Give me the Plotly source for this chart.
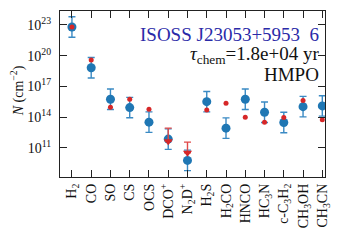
import plotly.graph_objects as go

species = ["H<sub>2</sub>", "CO", "SO", "CS", "OCS", "DCO<sup>+</sup>", "N<sub>2</sub>D<sup>+</sup>",
           "H<sub>2</sub>S", "H<sub>2</sub>CO", "HNCO", "HC<sub>3</sub>N",
           "c-C<sub>3</sub>H<sub>2</sub>", "CH<sub>3</sub>OH", "CH<sub>3</sub>CN"]

# observed column densities (cm^-2) with factor-of-10 uncertainties
obs_N = [6.3e22, 6.6e18, 5.5e15, 8.5e14, 3.2e13, 7.1e11, 5.9e9,
         3.2e15, 8.3e12, 5.5e15, 3.0e14, 3.0e13, 1.05e15, 1.23e15]
obs_err_factor = 10.0

# model column densities (cm^-2)
mod_species = ["H<sub>2</sub>", "CO", "SO", "CS", "OCS", "H<sub>2</sub>S", "H<sub>2</sub>CO", "HNCO",
               "HC<sub>3</sub>N", "c-C<sub>3</sub>H<sub>2</sub>", "CH<sub>3</sub>OH", "CH<sub>3</sub>CN"]
mod_N = [6.3e22, 3.7e19, 9.1e14, 5.5e15, 5.9e14, 5.0e14, 2.2e15, 9.8e13,
         3.2e13, 8.9e13, 4.1e15, 5.4e13]

# model upper limits
lim_species = ["DCO<sup>+</sup>", "N<sub>2</sub>D<sup>+</sup>"]
lim_N = [4.4e11, 3.3e10]
lim_top = [8.3e12, 3.6e11]

y_tickvals = [1e11, 1e14, 1e17, 1e20, 1e23]
y_ticktext = ["10<sup>11</sup>", "10<sup>14</sup>", "10<sup>17</sup>", "10<sup>20</sup>", "10<sup>23</sup>"]

BLUE = "#1f77b4"
RED = "#d62728"
FONT = "Liberation Serif"

fig = go.Figure()

fig.add_trace(go.Scatter(
    x=species, y=obs_N, mode="markers",
    marker=dict(color=BLUE, size=9),
    error_y=dict(type="data", symmetric=False,
                 array=[v * obs_err_factor - v for v in obs_N],
                 arrayminus=[v - v / obs_err_factor for v in obs_N],
                 color="#3a8ac4", thickness=1.4, width=3.5),
    showlegend=False))

fig.add_trace(go.Scatter(
    x=lim_species, y=lim_N, mode="markers",
    marker=dict(color=RED, size=8, symbol="triangle-down"),
    error_y=dict(type="data", symmetric=False,
                 array=[t - v for t, v in zip(lim_top, lim_N)],
                 arrayminus=[0 for _ in lim_N],
                 color="#e04a4a", thickness=1.4, width=3.5),
    showlegend=False))

fig.add_trace(go.Scatter(
    x=mod_species, y=mod_N, mode="markers",
    marker=dict(color=RED, size=5),
    showlegend=False))

axis_common = dict(showline=True, linecolor="#222", linewidth=1.2, mirror="ticks",
                   ticks="inside", ticklen=7, tickwidth=1.1, tickcolor="#222",
                   showgrid=False, zeroline=False, automargin=False)

fig.update_xaxes(type="category", categoryorder="array", categoryarray=species,
                 range=[-0.62, 13.14], tickangle=-90,
                 tickfont=dict(family=FONT, size=14, color="#111"), **axis_common)
fig.update_yaxes(type="log", range=[8.15, 24.36], tickvals=y_tickvals, ticktext=y_ticktext,
                 tickfont=dict(family=FONT, size=14, color="#111"), ticklabelstandoff=5,
                 **axis_common)

fig.add_annotation(x=0.985, y=0.86, xref="paper", yref="paper", xanchor="right", yanchor="middle",
                   text="ISOSS J23053+5953  6", showarrow=False,
                   font=dict(family=FONT, size=19, color="#2a2aa8"))
fig.add_annotation(x=0.985, y=0.735, xref="paper", yref="paper", xanchor="right", yanchor="middle",
                   text="<i>τ</i><sub>chem</sub>=1.8e+04 yr", showarrow=False,
                   font=dict(family=FONT, size=19, color="#111"))
fig.add_annotation(x=0.985, y=0.615, xref="paper", yref="paper", xanchor="right", yanchor="middle",
                   text="HMPO", showarrow=False,
                   font=dict(family=FONT, size=19, color="#111"))
fig.add_annotation(x=-0.16, y=0.52, xref="paper", yref="paper", xanchor="center", yanchor="middle",
                   text="<i>N</i> (cm<sup>−2</sup>)", textangle=-90, showarrow=False,
                   font=dict(family=FONT, size=14, color="#111"))

fig.update_layout(width=345, height=241, margin=dict(l=60, r=20, t=11, b=64),
                  paper_bgcolor="white", plot_bgcolor="white")

fig.write_html("out.html", config={"displayModeBar": False},
               post_script="document.body.style.margin='0';document.body.style.overflow='hidden';")
